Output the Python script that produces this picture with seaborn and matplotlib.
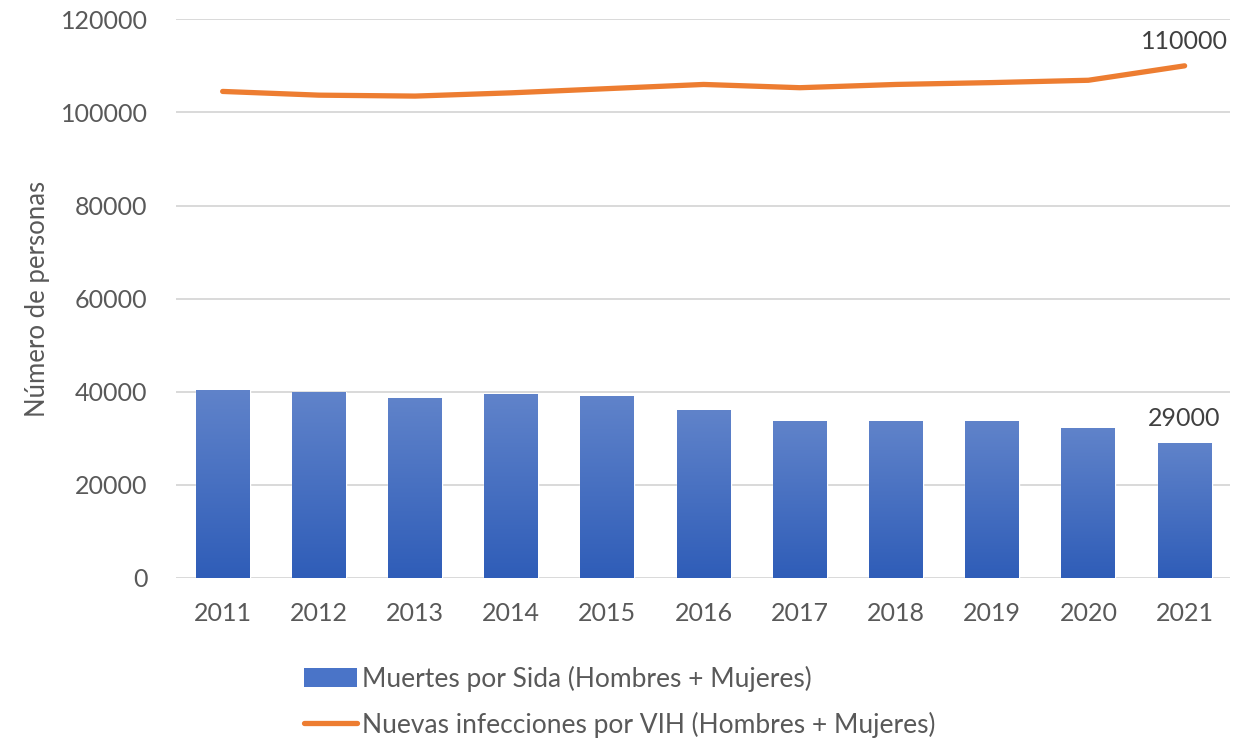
import numpy as np
import pandas as pd
import matplotlib
matplotlib.use("Agg")
import matplotlib.pyplot as plt
from matplotlib.patches import Patch
from matplotlib.lines import Line2D
from matplotlib.colors import LinearSegmentedColormap
import seaborn as sns

# -----------------------------
# DATA
# -----------------------------
years = ["2011", "2012", "2013", "2014", "2015", "2016",
         "2017", "2018", "2019", "2020", "2021"]
deaths = [40400, 39900, 38700, 39500, 39100, 36000,
          33700, 33700, 33700, 32200, 29000]
infections = [104500, 103700, 103500, 104200, 105100, 106000,
              105300, 106000, 106400, 106900, 110000]
yticks = [0, 20000, 40000, 60000, 80000, 100000, 120000]

label_bar = "Muertes por Sida (Hombres + Mujeres)"
label_line = "Nuevas infecciones por VIH (Hombres + Mujeres)"

# -----------------------------
# STYLE
# -----------------------------
sns.set_theme(style="white")
plt.rcParams["font.family"] = ["Lato", "DejaVu Sans"]
TXT = "#595959"
BLUE = "#4A74C8"
BLUE_TOP = "#6083CA"
BLUE_BOT = "#2F5DB8"
ORANGE = "#ED7D31"

df = pd.DataFrame({"year": years, "deaths": deaths,
                   "infections": infections, "pos": np.arange(len(years))})

fig = plt.figure(figsize=(12.36, 7.41), dpi=100)
ax = fig.add_axes([0.142, 0.22, 0.853, 0.754])

sns.barplot(data=df, x="year", y="deaths", color=BLUE, width=0.56,
            saturation=1, ax=ax, zorder=3)

# vertical gradient on the bars, like the original office chart
cmap = LinearSegmentedColormap.from_list("bars", [BLUE_BOT, BLUE_TOP])
grad = np.linspace(0, 1, 256).reshape(-1, 1)
for bar in ax.patches:
    x0, w, h = bar.get_x(), bar.get_width(), bar.get_height()
    im = ax.imshow(grad, cmap=cmap, origin="lower", aspect="auto",
                   extent=(x0, x0 + w, 0, h), zorder=3.1)
    im.set_clip_path(bar)

sns.lineplot(data=df, x="pos", y="infections", color=ORANGE, linewidth=3.8,
             ax=ax, zorder=4, solid_capstyle="round")

# labels on last points
ax.annotate(f"{infections[-1]}", (len(years) - 1, infections[-1]),
            xytext=(0, 9), textcoords="offset points", ha="center",
            va="bottom", fontsize=18, color="#404040")
ax.annotate(f"{deaths[-1]}", (len(years) - 1, deaths[-1]),
            xytext=(0, 9), textcoords="offset points", ha="center",
            va="bottom", fontsize=18, color="#404040")

ax.set_ylim(0, 120000)
ax.set_xlim(-0.49, len(years) - 1 + 0.47)
ax.set_yticks(yticks)
ax.yaxis.grid(True, color="#D9D9D9", linewidth=1.4, zorder=0)
ax.set_axisbelow(True)
for s in ax.spines.values():
    s.set_visible(False)
ax.tick_params(axis="y", length=0, labelsize=18, labelcolor=TXT, pad=20)
ax.tick_params(axis="x", length=0, labelsize=18, labelcolor=TXT, pad=17)
ax.set_xlabel("")
ax.set_ylabel("Número de personas", fontsize=18.5, color=TXT, labelpad=8)

handles = [Patch(facecolor=BLUE, edgecolor="none"),
           Line2D([0], [0], color=ORANGE, linewidth=3.8, solid_capstyle="round")]
leg = fig.legend(handles, [label_bar, label_line], loc="upper left",
                 bbox_to_anchor=(0.2375, 0.116), frameon=False, fontsize=19,
                 labelcolor=TXT, handlelength=2.0, handletextpad=0.2,
                 labelspacing=0.75, borderaxespad=0)

fig.savefig("out.png", dpi=100)
